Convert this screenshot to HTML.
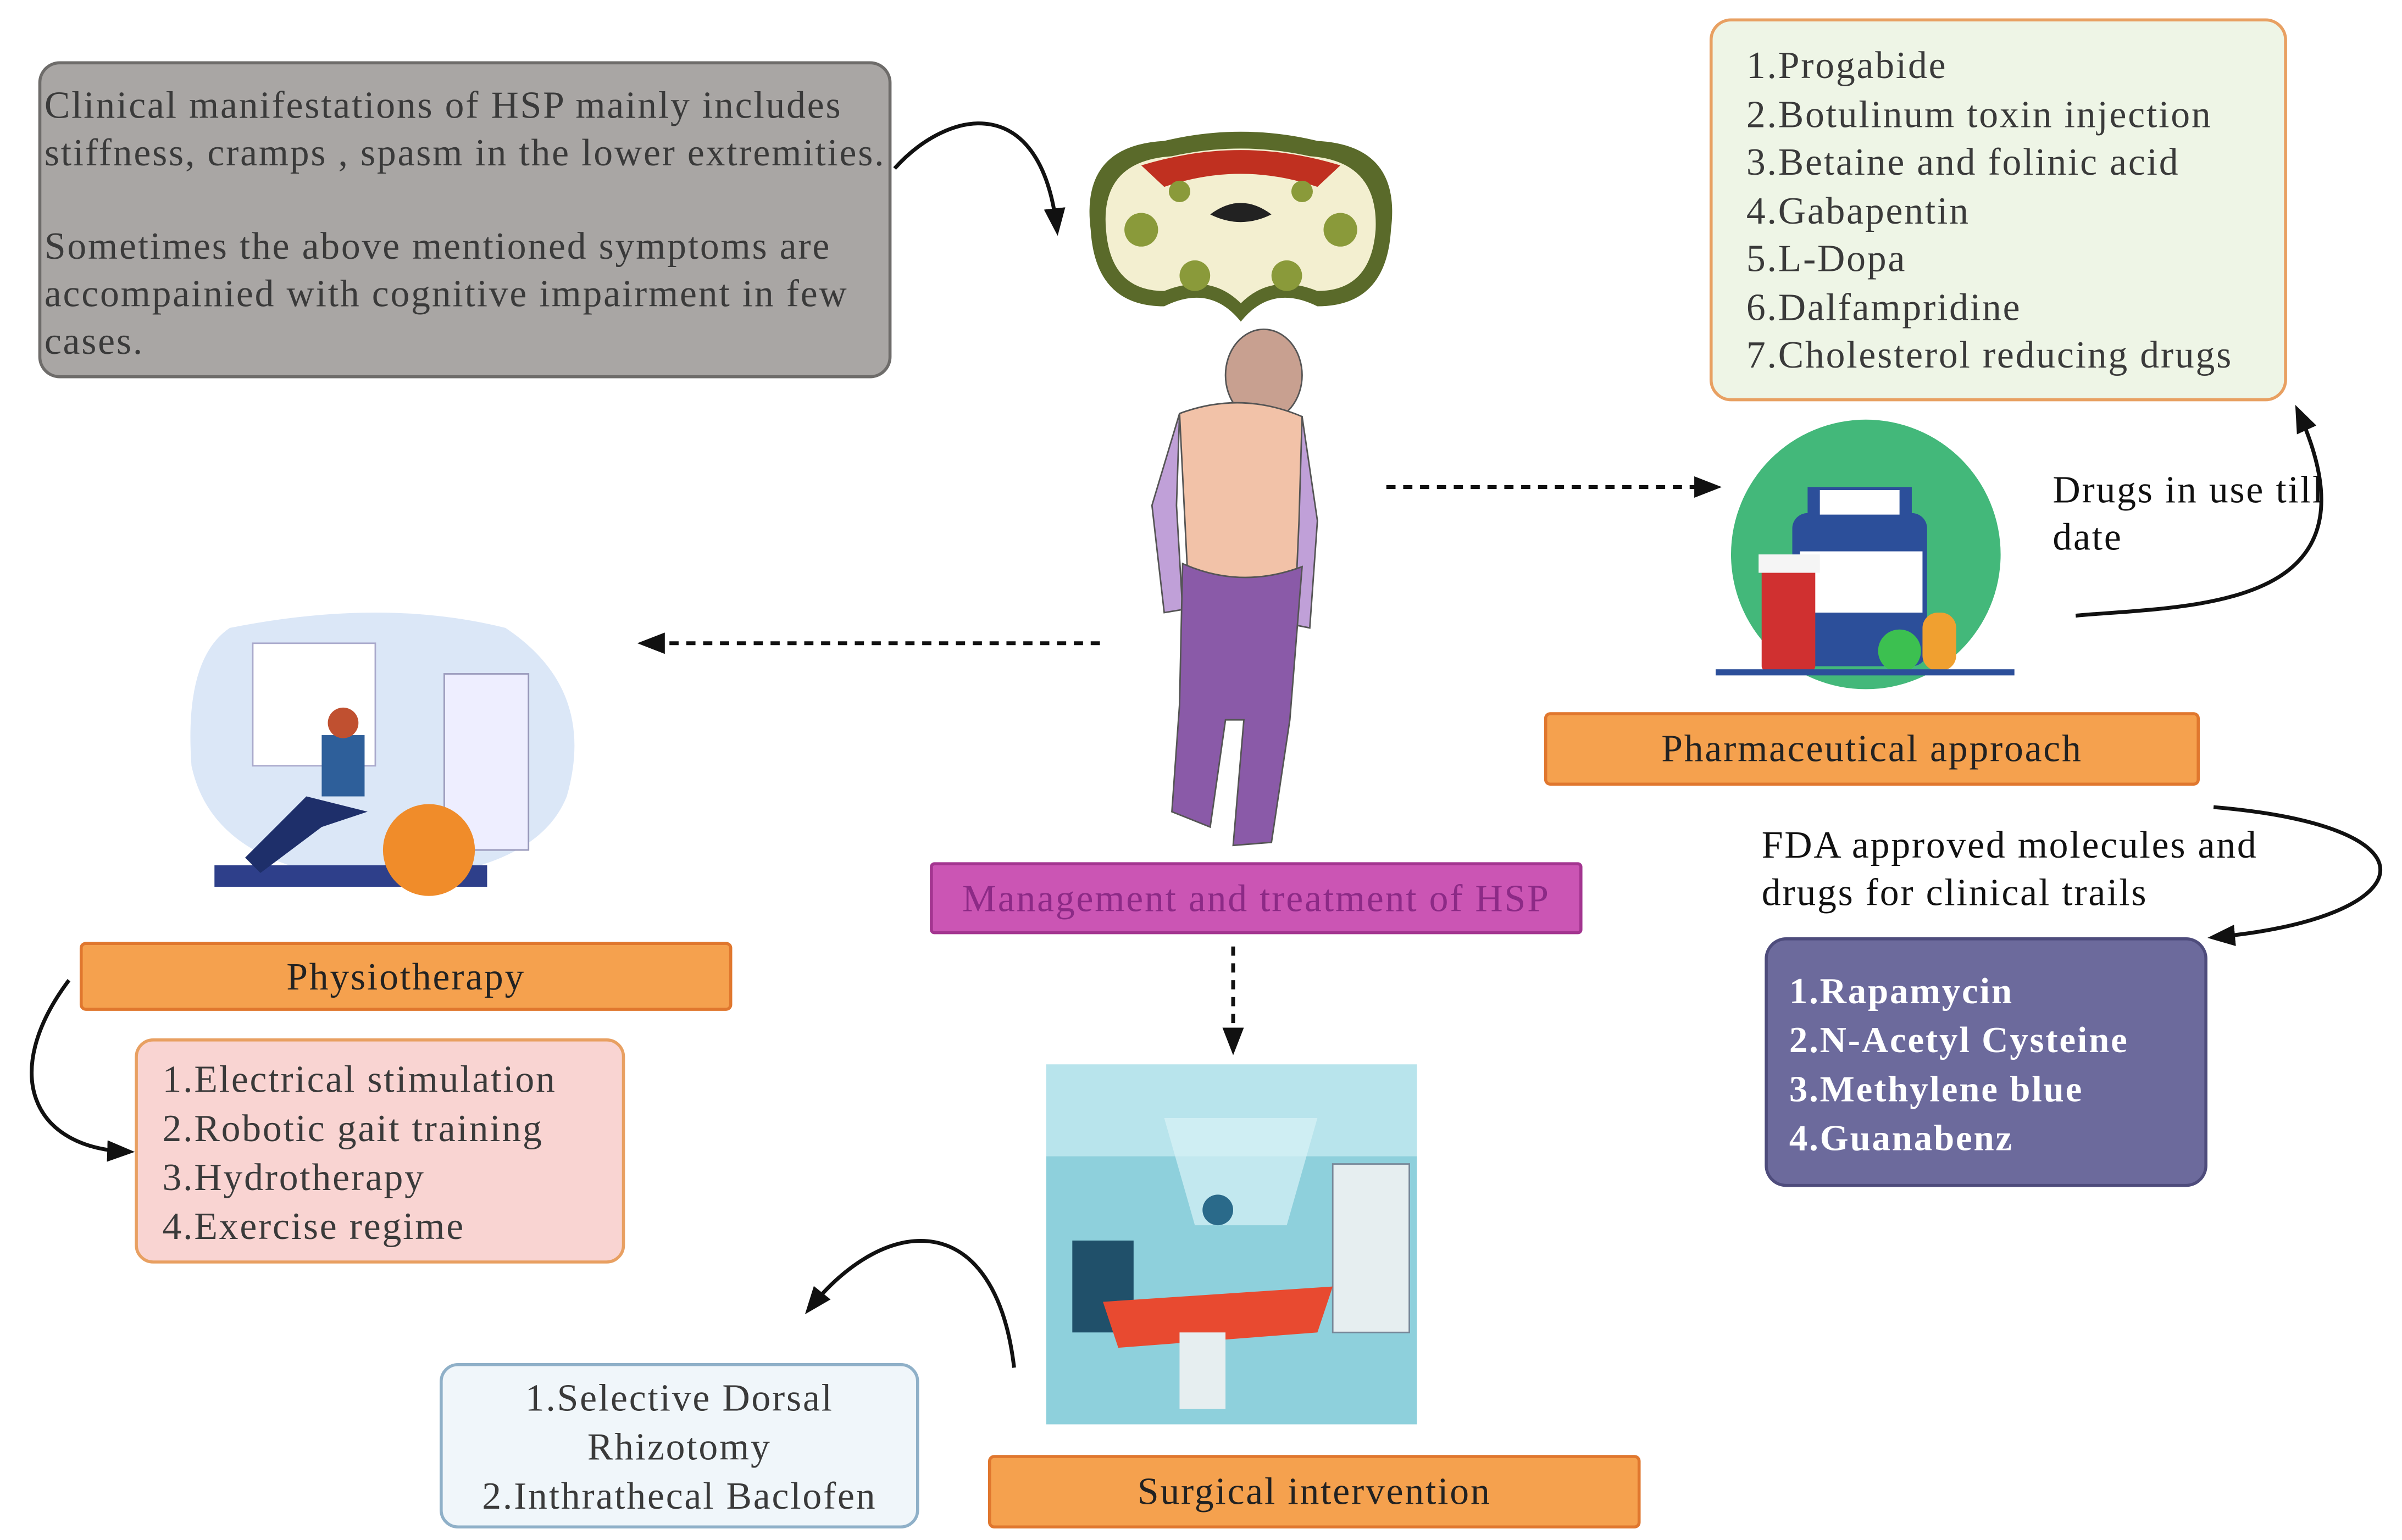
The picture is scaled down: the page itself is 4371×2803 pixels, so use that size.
<!DOCTYPE html>
<html><head><meta charset="utf-8"><style>
html,body{margin:0;padding:0;background:#fff;overflow:hidden}
#w{width:4371px;height:2803px;position:relative;overflow:hidden}
#c{position:absolute;left:0;top:0;width:1568px;height:1005px;transform:scale(2.7876);transform-origin:0 0;font-family:"Liberation Serif",serif;color:#333;letter-spacing:1px}
.b{position:absolute;box-sizing:border-box}
.t{position:absolute;white-space:nowrap}
.lbl{position:absolute;box-sizing:border-box;background:#f5a14e;border:2px solid #e0772e;border-radius:4px;text-align:center;font-size:25px;color:#222}
</style></head><body><div id="w"><div id="c">

<div class="b" style="left:25px;top:40px;width:557px;height:207px;background:#a9a6a4;border:2px solid #6e6c6a;border-radius:14px"></div>
<div class="t" style="left:29px;top:54px;font-size:25px;line-height:31px;color:#3a3a3a">Clinical manifestations of HSP mainly includes<br>stiffness, cramps , spasm in the lower extremities.<br><div style="height:30px"></div>Sometimes the above mentioned symptoms are<br>accompainied with cognitive impairment in few<br>cases.</div>

<div class="b" style="left:1116px;top:12px;width:377px;height:250px;background:#eef5e6;border:2px solid #e8a062;border-radius:14px"></div>
<div class="t" style="left:1140px;top:28px;font-size:25px;line-height:31.5px;color:#3a3a3a">1.Progabide<br>2.Botulinum toxin injection<br>3.Betaine and folinic acid<br>4.Gabapentin<br>5.L-Dopa<br>6.Dalfampridine<br>7.Cholesterol reducing drugs</div>

<div class="t" style="left:1340px;top:305px;font-size:25px;line-height:31px;color:#111">Drugs in use till<br>date</div>

<div class="lbl" style="left:1008px;top:465px;width:428px;height:48px;line-height:46px">Pharmaceutical approach</div>
<div class="t" style="left:1150px;top:537px;font-size:25px;line-height:31px;color:#111">FDA approved molecules and<br>drugs for clinical trails</div>

<div class="b" style="left:1152px;top:612px;width:289px;height:163px;background:#6c6a9c;border:2px solid #4e4c7c;border-radius:14px"></div>
<div class="t" style="left:1168px;top:632px;font-size:24px;line-height:32px;color:#fff;font-weight:bold">1.Rapamycin<br>2.N-Acetyl Cysteine<br>3.Methylene blue<br>4.Guanabenz</div>

<div class="b" style="left:607px;top:563px;width:426px;height:47px;background:#cb55b4;border:2px solid #a33590;border-radius:3px;text-align:center;font-size:25px;line-height:45px;color:#8c2a86">Management and treatment of HSP</div>

<div class="lbl" style="left:52px;top:615px;width:426px;height:45px;line-height:43px">Physiotherapy</div>
<div class="b" style="left:88px;top:678px;width:320px;height:147px;background:#f9d4d2;border:2px solid #e8a062;border-radius:12px"></div>
<div class="t" style="left:106px;top:690px;font-size:25px;line-height:32px;color:#3a3a3a">1.Electrical stimulation<br>2.Robotic gait training<br>3.Hydrotherapy<br>4.Exercise regime</div>

<div class="lbl" style="left:645px;top:950px;width:426px;height:48px;line-height:46px">Surgical intervention</div>
<div class="b" style="left:287px;top:890px;width:313px;height:108px;background:#f0f6fa;border:2px solid #8fb0c8;border-radius:12px;text-align:center;font-size:25px;line-height:32px;color:#3a3a3a;padding-top:6px">1.Selective Dorsal<br>Rhizotomy<br>2.Inthrathecal Baclofen</div>

<svg class="b" style="left:0;top:0" width="1568" height="1005" viewBox="0 0 1568 1005">
<defs>
<marker id="A" markerWidth="18" markerHeight="14" refX="14" refY="7" orient="auto" markerUnits="userSpaceOnUse"><path d="M0,0 L18,7 L0,14z" fill="#111"/></marker></defs>
<g stroke="#111" stroke-width="2.5" fill="none">
<path d="M584,110 C620,70 680,60 690,150" marker-end="url(#A)"/>
<path d="M1355,402 C1430,395 1560,400 1500,268" marker-end="url(#A)"/>
<path d="M1445,527 C1600,540 1580,600 1445,612" marker-end="url(#A)"/>
<path d="M45,640 C0,700 20,750 84,752" marker-end="url(#A)"/>
<path d="M662,893 C650,790 580,790 528,855" marker-end="url(#A)"/>
<path d="M905,318 L1120,318" stroke-dasharray="6 5" marker-end="url(#A)"/>
<path d="M718,420 L420,420" stroke-dasharray="6 5" marker-end="url(#A)"/>
<path d="M805,618 L805,685" stroke-dasharray="6 5" marker-end="url(#A)"/>
</g>
<!-- brain -->
<path d="M712,150 Q705,95 760,92 Q810,80 860,92 Q915,95 908,150 Q905,200 860,200 Q830,185 810,210 Q790,185 760,200 Q715,200 712,150z" fill="#5a6a2a"/>
<path d="M722,150 Q718,105 765,102 Q810,92 855,102 Q900,105 898,150 Q895,190 860,190 Q830,178 810,198 Q790,178 760,190 Q725,190 722,150z" fill="#f3efd0"/>
<path d="M745,108 Q810,88 875,108 L860,122 Q810,105 760,122z" fill="#c03020"/>
<path d="M790,140 Q810,125 830,140 Q810,150 790,140z" fill="#222"/>
<circle cx="745" cy="150" r="11" fill="#8a9a3a"/><circle cx="875" cy="150" r="11" fill="#8a9a3a"/>
<circle cx="780" cy="180" r="10" fill="#8a9a3a"/><circle cx="840" cy="180" r="10" fill="#8a9a3a"/>
<circle cx="770" cy="125" r="7" fill="#8a9a3a"/><circle cx="850" cy="125" r="7" fill="#8a9a3a"/>
<!-- figure -->
<ellipse cx="825" cy="245" rx="25" ry="30" fill="#c8a090" stroke="#555"/>
<path d="M770,270 Q810,255 850,272 L850,370 Q810,385 775,370z" fill="#f2c2a8" stroke="#555"/>
<path d="M770,270 L752,330 L760,400 L772,398 L768,330 z" fill="#c0a0d8" stroke="#555"/>
<path d="M850,272 L860,340 L855,410 L845,408 L848,340 z" fill="#c0a0d8" stroke="#555"/>
<path d="M772,368 Q810,385 850,370 L842,470 L830,550 L805,552 L812,470 L800,470 L790,540 L765,530 L770,460 z" fill="#8a5aa8" stroke="#555"/>
<!-- pills -->
<circle cx="1218" cy="362" r="88" fill="#43b87a"/>
<rect x="1170" y="335" width="88" height="100" rx="10" fill="#2c4f9a"/>
<rect x="1180" y="318" width="68" height="22" fill="#2c4f9a"/>
<rect x="1188" y="320" width="52" height="16" fill="#fff"/>
<rect x="1175" y="360" width="80" height="40" fill="#fff"/>
<rect x="1150" y="370" width="35" height="68" rx="3" fill="#d03030"/>
<rect x="1148" y="362" width="40" height="12" fill="#f5f5f5"/>
<circle cx="1240" cy="425" r="14" fill="#3cc050"/><rect x="1255" y="400" width="22" height="38" rx="10" fill="#f0a030"/>
<rect x="1120" y="437" width="195" height="4" fill="#2c4f9a"/>
<!-- physio -->
<path d="M150,410 Q250,390 330,410 Q390,450 370,520 Q350,570 250,575 Q140,570 125,500 Q120,430 150,410z" fill="#dbe7f7"/>
<rect x="165" y="420" width="80" height="80" fill="#fff" stroke="#aac"/>
<rect x="290" y="440" width="55" height="115" fill="#eef" stroke="#99b"/>
<rect x="140" y="565" width="178" height="14" fill="#2e3f8a"/>
<circle cx="280" cy="555" r="30" fill="#f08c2a"/>
<rect x="210" y="480" width="28" height="40" fill="#2e5f9a"/>
<circle cx="224" cy="472" r="10" fill="#c05030"/>
<path d="M160,560 L200,520 L240,530 L210,540 L170,570z" fill="#1e2f6a"/>
<!-- surgery -->
<rect x="683" y="695" width="242" height="235" fill="#8ed0dc"/>
<rect x="683" y="695" width="242" height="60" fill="#b8e4ec"/>
<path d="M760,730 L860,730 L840,800 L780,800z" fill="#d8f2f6" opacity=".7"/>
<rect x="870" y="760" width="50" height="110" fill="#e6eef0" stroke="#789"/>
<rect x="700" y="810" width="40" height="60" fill="#20506a"/>
<path d="M720,850 L870,840 L860,870 L730,880z" fill="#e84a30"/>
<rect x="770" y="870" width="30" height="50" fill="#e6eef0"/>
<circle cx="795" cy="790" r="10" fill="#2a6a8a"/>
</svg>
</div></div></body></html>
